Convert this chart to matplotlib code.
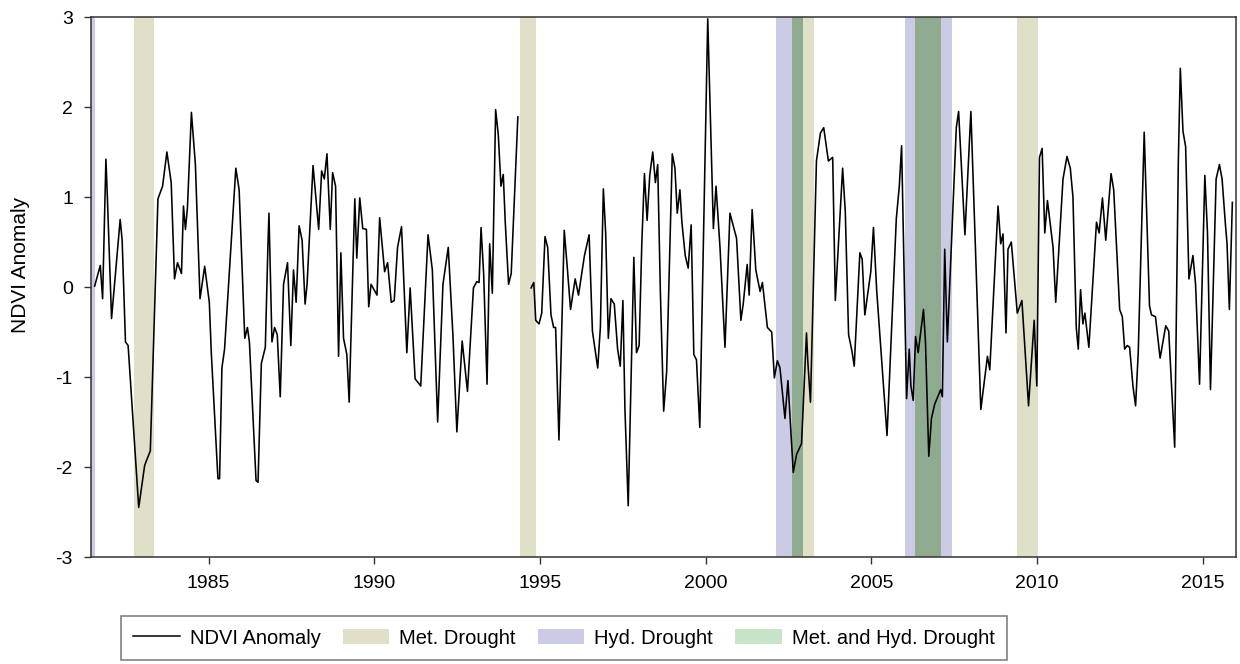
import numpy as np
import matplotlib
matplotlib.use('Agg')
import matplotlib.pyplot as plt
from matplotlib.lines import Line2D
from matplotlib.patches import Patch

plt.rcParams['font.family'] = ['Liberation Sans', 'DejaVu Sans']
plt.rcParams['axes.unicode_minus'] = False

# NDVI anomaly (decimal year, value); nan marks the data gap in 1994
years = [1981.56, 1981.73, 1981.80, 1981.90, 1981.94, 1982.07, 1982.33, 1982.39, 1982.49, 1982.57,
         1982.89, 1983.07, 1983.24, 1983.47, 1983.61, 1983.74, 1983.87, 1983.97, 1984.06, 1984.18,
         1984.24, 1984.30, 1984.36, 1984.48, 1984.60, 1984.74, 1984.88, 1985.02, 1985.08, 1985.28,
         1985.33, 1985.40, 1985.48, 1985.82, 1985.92, 1986.09, 1986.17, 1986.23, 1986.43, 1986.49,
         1986.59, 1986.71, 1986.79, 1986.82, 1986.91, 1986.99, 1987.07, 1987.16,
         1987.26, 1987.38, 1987.48, 1987.56, 1987.64, 1987.73, 1987.82, 1987.91, 1987.97, 1988.15,
         1988.32, 1988.41, 1988.49, 1988.57, 1988.67, 1988.74, 1988.83, 1988.92, 1988.99, 1989.07,
         1989.17, 1989.24, 1989.41, 1989.47, 1989.56, 1989.65, 1989.76, 1989.83, 1989.90, 1990.08,
         1990.16, 1990.31, 1990.40, 1990.51, 1990.60, 1990.70, 1990.82, 1990.98, 1991.08, 1991.23,
         1991.40, 1991.62, 1991.75, 1991.91, 1992.07, 1992.23, 1992.37, 1992.49, 1992.65, 1992.81,
         1992.99, 1993.09,
         1993.16, 1993.22, 1993.30, 1993.40, 1993.48, 1993.56, 1993.66, 1993.74, 1993.82, 1993.89,
         1993.95, 1994.05, 1994.13, 1994.33, 1994.50,
         1994.73, 1994.81, 1994.87, 1994.97, 1995.05, 1995.15, 1995.23, 1995.33, 1995.41, 1995.47,
         1995.57, 1995.73, 1995.81, 1995.92, 1996.06, 1996.16, 1996.34, 1996.48, 1996.58, 1996.74,
         1996.82, 1996.91, 1996.98, 1997.06, 1997.14, 1997.24, 1997.34, 1997.42, 1997.50, 1997.56,
         1997.66, 1997.83, 1997.91, 1997.99, 1998.07, 1998.15, 1998.23, 1998.31, 1998.40, 1998.48,
         1998.55, 1998.63, 1998.73, 1998.82, 1998.99, 1999.07,
         1999.14, 1999.22, 1999.28, 1999.38, 1999.47, 1999.56, 1999.64, 1999.72, 1999.82, 2000.06,
         2000.23, 2000.31, 2000.43, 2000.58, 2000.73, 2000.83, 2000.93, 2001.06, 2001.13, 2001.25,
         2001.31, 2001.40, 2001.51, 2001.64, 2001.71, 2001.86, 2001.99, 2002.07, 2002.16, 2002.24,
         2002.39, 2002.48, 2002.64, 2002.74, 2002.89, 2003.04, 2003.08, 2003.16, 2003.34, 2003.46,
         2003.56, 2003.70, 2003.83, 2003.91, 2004.13, 2004.21, 2004.31, 2004.41, 2004.48, 2004.65,
         2004.72, 2004.80,
         2004.98, 2005.06, 2005.16, 2005.47, 2005.75, 2005.84, 2005.91, 2006.06, 2006.14, 2006.19,
         2006.26, 2006.33, 2006.41, 2006.57, 2006.63, 2006.73, 2006.81, 2006.91, 2007.09, 2007.14,
         2007.21, 2007.29, 2007.56, 2007.63, 2007.82, 2008.00, 2008.30, 2008.50, 2008.57, 2008.82,
         2008.90, 2008.97, 2009.06, 2009.12, 2009.22, 2009.40, 2009.54, 2009.74, 2009.91, 2009.99,
         2010.07, 2010.15, 2010.23, 2010.31, 2010.38,
         2010.48, 2010.56, 2010.78, 2010.90, 2011.00, 2011.08, 2011.18, 2011.24, 2011.31, 2011.38,
         2011.44, 2011.56, 2011.79, 2011.87, 2011.97, 2012.07, 2012.23, 2012.31, 2012.49, 2012.57,
         2012.64, 2012.72, 2012.79, 2012.89, 2012.97, 2013.05, 2013.23, 2013.39, 2013.45, 2013.57,
         2013.71, 2013.88, 2013.97, 2014.15, 2014.26, 2014.32, 2014.40, 2014.48, 2014.58, 2014.70,
         2014.78, 2014.90, 2015.06, 2015.14, 2015.23, 2015.40, 2015.50, 2015.58, 2015.68, 2015.73,
         2015.80, 2015.89]

ndvi = [0.01, 0.24, -0.13, 1.42, 1.04, -0.35, 0.75, 0.52, -0.61, -0.65,
        -2.45, -1.98, -1.82, 0.98, 1.12, 1.50, 1.16, 0.09, 0.27, 0.15,
        0.90, 0.64, 0.88, 1.94, 1.36, -0.13, 0.23, -0.17, -0.73, -2.13,
        -2.13, -0.90, -0.69, 1.32, 1.08, -0.57, -0.45, -0.61, -2.15, -2.17,
        -0.85, -0.67, 0.48, 0.82, -0.61, -0.45, -0.53, -1.22,
        0.03, 0.27, -0.65, 0.19, -0.17, 0.68, 0.52, -0.19, 0.03, 1.35,
        0.64, 1.29, 1.20, 1.48, 0.64, 1.27, 1.12, -0.77, 0.38, -0.57,
        -0.75, -1.28, 0.98, 0.32, 0.99, 0.65, 0.64, -0.22, 0.03, -0.09,
        0.77, 0.17, 0.27, -0.17, -0.15, 0.44, 0.67, -0.73, -0.01, -1.02,
        -1.10, 0.58, 0.19, -1.50, 0.03, 0.44, -0.53, -1.61, -0.60, -1.16,
        -0.01, 0.06,
        0.05, 0.66, 0.13, -1.08, 0.48, -0.07, 1.97, 1.69, 1.12, 1.25,
        0.72, 0.03, 0.15, 1.89, np.nan,
        -0.01, 0.05, -0.37, -0.41, -0.29, 0.56, 0.44, -0.31, -0.45, -0.45,
        -1.70, 0.63, 0.27, -0.25, 0.09, -0.09, 0.35, 0.58, -0.49, -0.90,
        -0.45, 1.09, 0.60, -0.57, -0.13, -0.19, -0.69, -0.88, -0.15, -1.34,
        -2.43, 0.33, -0.73, -0.65, 0.48, 1.26, 0.74, 1.24, 1.50, 1.16,
        1.36, -0.05, -1.38, -0.94, 1.48, 1.32,
        0.82, 1.08, 0.72, 0.35, 0.21, 0.69, -0.75, -0.81, -1.56, 2.98,
        0.65, 1.12, 0.44, -0.67, 0.82, 0.68, 0.54, -0.37, -0.19, 0.25,
        -0.09, 0.86, 0.19, -0.05, 0.05, -0.45, -0.50, -1.01, -0.82, -0.90,
        -1.46, -1.04, -2.06, -1.86, -1.74, -0.51, -0.83, -1.28, 1.40, 1.71,
        1.77, 1.40, 1.44, -0.15, 1.32, 0.84, -0.53, -0.71, -0.88, 0.38,
        0.31, -0.31,
        0.17, 0.66, -0.05, -1.65, 0.76, 1.12, 1.57, -1.24, -0.69, -1.10,
        -1.26, -0.55, -0.73, -0.25, -0.61, -1.88, -1.46, -1.30, -1.14, -1.22,
        0.42, -0.61, 1.77, 1.95, 0.58, 1.95, -1.36, -0.77, -0.92, 0.90,
        0.48, 0.59, -0.51, 0.42, 0.50, -0.29, -0.15, -1.32, -0.37, -1.10,
        1.44, 1.54, 0.60, 0.96, 0.75,
        0.44, -0.17, 1.20, 1.45, 1.32, 1.00, -0.45, -0.69, -0.03, -0.41,
        -0.29, -0.67, 0.72, 0.60, 0.99, 0.52, 1.26, 1.08, -0.25, -0.33,
        -0.69, -0.65, -0.67, -1.10, -1.32, -0.73, 1.72, -0.21, -0.31, -0.33,
        -0.79, -0.43, -0.49, -1.78, 1.40, 2.43, 1.73, 1.56, 0.09, 0.35,
        0.03, -1.08, 1.24, 0.60, -1.14, 1.20, 1.36, 1.20, 0.70, 0.48,
        -0.25, 0.94]

# drought periods (start, end) in decimal years
met_drought = [(1982.74, 1983.36), (1994.38, 1994.87), (2002.60, 2003.26),
               (2006.31, 2007.10), (2009.38, 2010.02)]
hyd_drought = [(1981.40, 1981.58), (2002.12, 2002.94), (2006.01, 2007.44)]
both_drought = [(2002.60, 2002.94), (2006.31, 2007.10)]

met_color = '#e0e0c8'
hyd_color = '#cbcbe5'
both_color = '#8fab8f'
both_legend_color = '#c8e4c8'

fig = plt.figure(figsize=(12.4, 6.64), dpi=100)
ax = fig.add_axes([91 / 1240, 1 - 557 / 664, (1236 - 91) / 1240, 540 / 664])

for s, e in hyd_drought:
    ax.axvspan(s, e, color=hyd_color, lw=0, zorder=1)
for s, e in met_drought:
    ax.axvspan(s, e, color=met_color, lw=0, zorder=1)
for s, e in both_drought:
    ax.axvspan(s, e, color=both_color, lw=0, zorder=2)

ax.plot(years, ndvi, color='black', lw=1.15, zorder=3)

ax.set_xlim(1981.45, 2016.0)
ax.set_ylim(-3, 3)
ax.set_xticks([1985, 1990, 1995, 2000, 2005, 2010, 2015])
ax.set_yticks([-3, -2, -1, 0, 1, 2, 3])
ax.tick_params(axis='both', direction='out', length=5, width=1, labelsize=14, pad=8,
               color='#333333')
ax.set_ylabel('NDVI Anomaly', fontsize=15)
ax.yaxis.set_label_coords(-0.053, 0.54)
for sp in ax.spines.values():
    sp.set_color('#333333')
    sp.set_linewidth(1.1)

handles = [Line2D([], [], color='black', lw=1.1),
           Patch(facecolor=met_color, edgecolor='none'),
           Patch(facecolor=hyd_color, edgecolor='none'),
           Patch(facecolor=both_legend_color, edgecolor='none')]
labels = ['NDVI Anomaly', 'Met. Drought', 'Hyd. Drought', 'Met. and Hyd. Drought']
leg = fig.legend(handles, labels, loc='center', bbox_to_anchor=(564 / 1240, 1 - 638 / 664),
                 ncol=4, fontsize=14.5, frameon=True, fancybox=False, handlelength=2.3,
                 handleheight=0.8, columnspacing=1.1, handletextpad=0.5, borderpad=0.6,
                 borderaxespad=0)
leg.get_frame().set_edgecolor('#555555')
leg.get_frame().set_linewidth(1.1)

plt.savefig('out.png', dpi=100)
